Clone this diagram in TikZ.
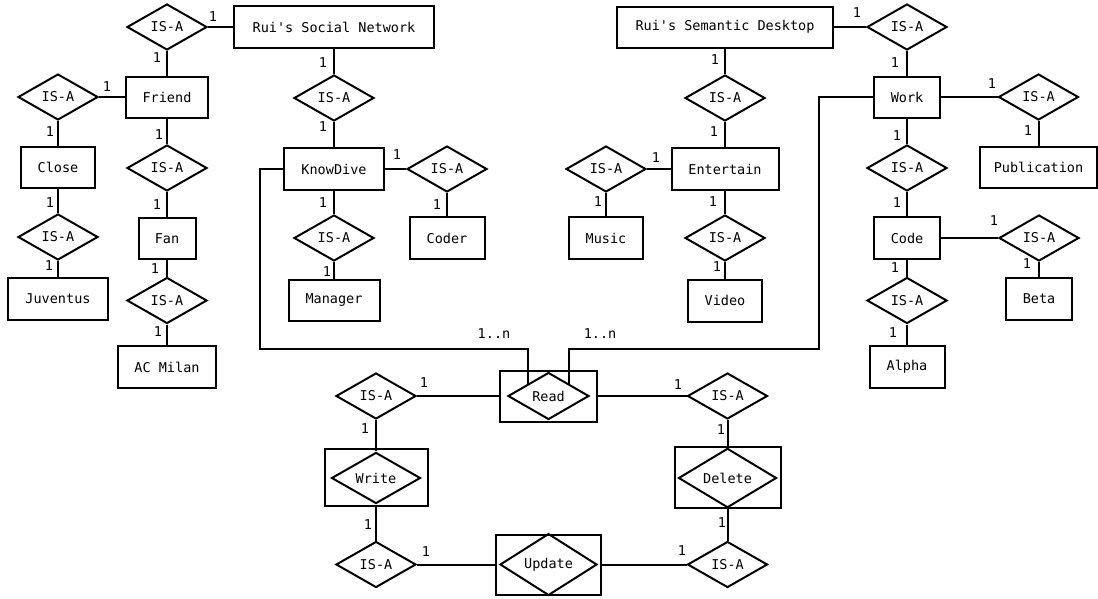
\documentclass[tikz,border=0pt]{standalone}
\usepackage{fontspec}
\setmainfont{DejaVu Sans Mono}
\usetikzlibrary{shapes.geometric}
\begin{document}
\begin{tikzpicture}[x=1pt,y=-1pt,
  every node/.style={font=\fontsize{13.5}{16}\selectfont},
  entity/.style={draw, rectangle, line width=2pt, inner sep=0pt},
  isa/.style={draw, diamond, line width=2pt, inner sep=0pt, minimum width=80pt, minimum height=46pt},
  rbox/.style={draw, rectangle, line width=2pt, inner sep=0pt},
  rdia/.style={draw, diamond, line width=2pt, inner sep=0pt},
  card/.style={inner sep=0pt},
  link/.style={line width=2pt}]
\useasboundingbox (0,0) rectangle (1098,598);

% entities
\node[entity, minimum width=200pt, minimum height=42pt] (rsn) at (334,27) {Rui\textquotesingle s Social Network};
\node[entity, minimum width=82pt, minimum height=41pt] (friend) at (167,97) {Friend};
\node[entity, minimum width=74pt, minimum height=41pt] (close) at (58,167.5) {Close};
\node[entity, minimum width=100pt, minimum height=42pt] (juv) at (58,299) {Juventus};
\node[entity, minimum width=57pt, minimum height=41pt] (fan) at (167,238.5) {Fan};
\node[entity, minimum width=98pt, minimum height=42pt] (acm) at (167,367) {AC Milan};
\node[entity, minimum width=100pt, minimum height=42pt] (kd) at (334,169) {KnowDive};
\node[entity, minimum width=91pt, minimum height=41pt] (mgr) at (334,300.5) {Manager};
\node[entity, minimum width=75pt, minimum height=42pt] (coder) at (447,238) {Coder};
\node[entity, minimum width=216pt, minimum height=41pt] (rsd) at (725,27) {Rui\textquotesingle s Semantic Desktop};
\node[entity, minimum width=107pt, minimum height=42pt] (entn) at (725,169) {Entertain};
\node[entity, minimum width=74pt, minimum height=42pt] (music) at (606,238) {Music};
\node[entity, minimum width=74pt, minimum height=42pt] (video) at (725,300.5) {Video};
\node[entity, minimum width=66pt, minimum height=41pt] (work) at (907,97) {Work};
\node[entity, minimum width=117pt, minimum height=41pt] (pub) at (1038.5,167.5) {Publication};
\node[entity, minimum width=66pt, minimum height=42pt] (code) at (907,238) {Code};
\node[entity, minimum width=66pt, minimum height=42pt] (beta) at (1039,299) {Beta};
\node[entity, minimum width=75pt, minimum height=42pt] (alpha) at (907,367) {Alpha};

% IS-A diamonds
\node[isa] (d1) at (167,27) {IS-A};
\node[isa] (d2) at (58,97) {IS-A};
\node[isa] (d3) at (167,168) {IS-A};
\node[isa] (d4) at (58,237) {IS-A};
\node[isa] (d5) at (167,300.5) {IS-A};
\node[isa] (d6) at (334,98) {IS-A};
\node[isa] (d7) at (334,238) {IS-A};
\node[isa] (d8) at (447,169) {IS-A};
\node[isa] (d9) at (725,98) {IS-A};
\node[isa] (d10) at (606,169) {IS-A};
\node[isa] (d11) at (725,238) {IS-A};
\node[isa] (d12) at (907,27) {IS-A};
\node[isa] (d13) at (1038.5,97) {IS-A};
\node[isa] (d14) at (907,168) {IS-A};
\node[isa] (d15) at (1039,238) {IS-A};
\node[isa] (d16) at (907,300.5) {IS-A};
\node[isa] (d17) at (376,396) {IS-A};
\node[isa] (d18) at (727.5,396) {IS-A};
\node[isa] (d19) at (376,564.5) {IS-A};
\node[isa] (d20) at (727.5,564.5) {IS-A};

% relationship boxes
\node[rbox, minimum width=97pt, minimum height=51pt] (readbox) at (548.5,396) {};
\node[rdia, minimum width=81pt, minimum height=47pt] (readd) at (548.5,396) {Read};
\node[rbox, minimum width=103pt, minimum height=57pt] (writebox) at (376,477.5) {};
\node[rdia, minimum width=89pt, minimum height=50pt] (writed) at (376,478) {Write};
\node[rbox, minimum width=106pt, minimum height=61pt] (deletebox) at (727.5,477.5) {};
\node[rdia, minimum width=98pt, minimum height=56pt] (deleted) at (727.5,478) {Delete};
\node[rbox, minimum width=105pt, minimum height=60pt] (updatebox) at (548.5,564.5) {};
\node[rdia, minimum width=97pt, minimum height=57pt] (updated) at (548.5,564.5) {Update};

% connectors
\draw[link] (rsn.west) -- (d1.east);
\draw[link] (d1.south) -- (friend.north);
\draw[link] (friend.west) -- (d2.east);
\draw[link] (d2.south) -- (close.north);
\draw[link] (friend.south) -- (d3.north);
\draw[link] (d3.south) -- (fan.north);
\draw[link] (close.south) -- (d4.north);
\draw[link] (d4.south) -- (juv.north);
\draw[link] (fan.south) -- (d5.north);
\draw[link] (d5.south) -- (acm.north);
\draw[link] (rsn.south) -- (d6.north);
\draw[link] (d6.south) -- (kd.north);
\draw[link] (kd.south) -- (d7.north);
\draw[link] (d7.south) -- (mgr.north);
\draw[link] (kd.east) -- (d8.west);
\draw[link] (d8.south) -- (coder.north);
\draw[link] (rsd.south) -- (d9.north);
\draw[link] (d9.south) -- (entn.north);
\draw[link] (entn.west) -- (d10.east);
\draw[link] (d10.south) -- (music.north);
\draw[link] (entn.south) -- (d11.north);
\draw[link] (d11.south) -- (video.north);
\draw[link] (rsd.east) -- (d12.west);
\draw[link] (d12.south) -- (work.north);
\draw[link] (work.east) -- (d13.west);
\draw[link] (d13.south) -- (pub.north);
\draw[link] (work.south) -- (d14.north);
\draw[link] (d14.south) -- (code.north);
\draw[link] (code.east) -- (d15.west);
\draw[link] (d15.south) -- (beta.north);
\draw[link] (code.south) -- (d16.north);
\draw[link] (d16.south) -- (alpha.north);
\draw[link] (d17.east) -- (readbox.west);
\draw[link] (d17.south) -- (writed.north);
\draw[link] (readbox.east) -- (d18.west);
\draw[link] (d18.south) -- (deleted.north);
\draw[link] (writed.south) -- (d19.north);
\draw[link] (d19.east) -- (updatebox.west);
\draw[link] (deleted.south) -- (d20.north);
\draw[link] (d20.west) -- (updatebox.east);

\coordinate (kl) at (260,349);
\coordinate (wr) at (819,349);
\draw[link] (kd.west) -| (kl) -| (readd.north west);
\draw[link] (work.west) -| (wr) -| (readd.north east);

% cardinalities
\foreach \p in {(213,17),(157,58),(107,87),(50,132),(159,135),(157,205),
  (50,203),(49,266),(155,269),(158,332),(323,63),(323,127),(323,203),(327,272),
  (397,155),(437,205),(715,60),(714,132),(656,158),(598,202),(713,202),(717,267),
  (857,13),(895,63),(992,84),(1028,131),(897,136),(897,203),(994,221),(1027,264),
  (895,268),(893,333),(424,383),(365,429),(678,385),(721,430),(368,525),(426,552),
  (722,523),(682,551)}
  \node[card] at \p {1};
\node[card] (n1) at (494,334) {1..n};
\node[card] (n2) at (600,334) {1..n};
\end{tikzpicture}
\end{document}
